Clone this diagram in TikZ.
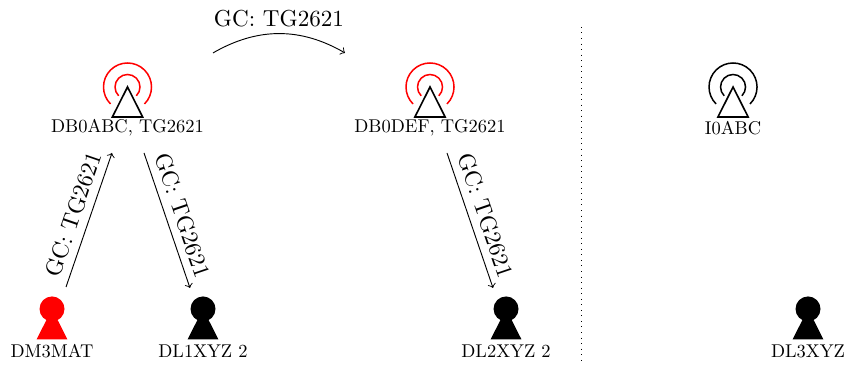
\documentclass[tikz,border=0pt]{standalone}
\begin{document}
\begin{tikzpicture}
    \tikzset{lbl/.style={scale=.8,inner sep=0pt},
    tag/.style={midway,above,sloped},
    pics/tower/.style={code={
      \draw[line width=.65pt,#1] (-45:.365) arc (-45:225:.365);%outer wave
      \draw[line width=.65pt,#1] (-45:.19) arc (-45:225:.19);%inner wave
      \draw[line width=.7pt,black] (-.23,-.456) -- (0,0) -- (.23,-.456) -- cycle;}},
    pics/user/.style={code={
      \fill[#1] (0,0) circle (.19);
      \fill[#1] (-.235,-.464) -- (0,0) -- (.235,-.464) -- cycle;}}}
    \useasboundingbox (0,0) rectangle (12.88,5.55);

    \pic at (1.939,4.227) {tower=red};
    \pic at (6.539,4.227) {tower=red};
    \pic at (11.147,4.227) {tower=black};
    \pic at (.791,.852) {user=red};
    \pic at (3.087,.852) {user=black};
    \pic at (7.695,.852) {user=black};
    \pic at (12.287,.852) {user=black};

    \node[lbl] (db0abc) at (1.939,3.604) {DB0ABC, TG2621};
    \node[lbl] (db0def) at (6.539,3.604) {DB0DEF, TG2621};
    \node[lbl] (i0abc) at (11.147,3.604) {I0ABC};
    \node[lbl] (dm3mat) at (.791,.213) {DM3MAT};
    \node[lbl] (dl1xyz) at (3.087,.213) {DL1XYZ 2};
    \node[lbl] (dl2xyz) at (7.695,.213) {DL2XYZ 2};
    \node[lbl] (dl3xyz) at (12.287,.213) {DL3XYZ};

    \coordinate (up1) at (1.004,1.186);
    \coordinate (up2) at (1.703,3.224);
    \coordinate (down1) at (2.19,3.224);
    \coordinate (down2) at (2.889,1.171);
    \coordinate (down3) at (6.797,3.224);
    \coordinate (down4) at (7.497,1.171);
    \coordinate (link1) at (3.239,4.745);
    \coordinate (link2) at (5.246,4.745);
    \coordinate (sep1) at (8.843,5.14);
    \coordinate (sep2) at (8.843,.076);

    \draw[->] (up1) -- node[tag] (gcup) {GC: TG2621} (up2);
    \draw[->] (down1) -- node[tag] (gcdown) {GC: TG2621} (down2);
    \draw[->] (down3) -- node[tag] (gcdownb) {GC: TG2621} (down4);
    \draw[->] (link1) to[bend left=30] node[midway,above,yshift=-.8pt] (gclink) {GC: TG2621} (link2);%between repeaters
    \draw[dotted] (sep1) -- (sep2);
  \end{tikzpicture}
\end{document}
